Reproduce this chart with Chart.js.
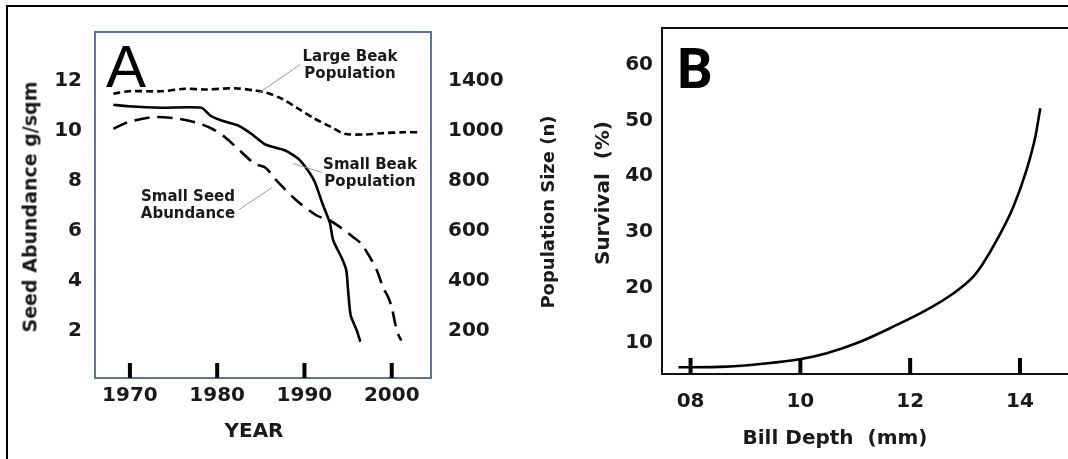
<!DOCTYPE html>
<html>
<head>
<meta charset="utf-8">
<title>Beak size and seed abundance</title>
<script src="https://cdn.jsdelivr.net/npm/chart.js@4.4.1/dist/chart.umd.min.js"></script>
<style>
  html, body { margin: 0; padding: 0; background: #fff; }
  #page { position: relative; width: 1068px; height: 459px; overflow: hidden; }
  .frame { position: absolute; left: 6px; top: 5px; width: 1100px; height: 500px;
           border-top: 2px solid #000; border-left: 2px solid #000; }
  canvas { position: absolute; top: 0; }
  #chartA { left: 0; }
  #chartB { left: 566px; }
  .title { position: absolute; font-family: "DejaVu Sans"; font-weight: bold; color: #1a1a1a;
           white-space: pre; line-height: 1; transform: translate(-50%, -50%); }
  .rot { transform: translate(-50%, -50%) rotate(-90deg); }
  .note { position: absolute; width: 140px; text-align: center; color: #1a1a1a;
          font: bold 15px/17px "DejaVu Sans"; }
  .panel { position: absolute; line-height: 1; color: #000; }
</style>
</head>
<body>
<div id="page">
  <div class="frame"></div>
  <canvas id="chartA" width="566" height="459"></canvas>
  <canvas id="chartB" width="530" height="459"></canvas>

  <div class="panel" style="left:106px; top:32px; font: 60px 'Liberation Sans';">A</div>
  <div class="panel" style="left:677px; top:36px; font: bold 56px Roboto;">B</div>

  <div class="note" style="left:280px; top:48px;">Large Beak<br>Population</div>
  <div class="note" style="left:300px; top:156px;">Small Beak<br>Population</div>
  <div class="note" style="left:118px; top:188px;">Small Seed<br>Abundance</div>

  <div class="title rot" style="left:30px; top:207px; font-size:19px;">Seed Abundance g/sqm</div>
  <div class="title rot" style="left:548px; top:212px; font-size:18px;">Population Size (n)</div>
  <div class="title" style="left:254px; top:430px; font-size:20px;">YEAR</div>
  <div class="title rot" style="left:602px; top:193px; font-size:20px;">Survival  (%)</div>
  <div class="title" style="left:835px; top:437px; font-size:20px;">Bill Depth  (mm)</div>
</div>

<script>
// === DADOS: painel A (anos x abundancia, unidades do eixo esquerdo) ===
const yearTicks = [1970, 1980, 1990, 2000];
const seedTicks = [2, 4, 6, 8, 10, 12];
const popTickLabels = ["200", "400", "600", "800", "1000", "1400"];

const largeBeakYears = [1968.1, 1969.8, 1973.6, 1976.3, 1978.6, 1982.0, 1984.3, 1985.5, 1987.4, 1989.3, 1991.2, 1993.1, 1994.6, 1996.9, 1998.8, 2001.5, 2003.3];
const largeBeak = [11.47, 11.57, 11.57, 11.67, 11.64, 11.69, 11.6, 11.53, 11.27, 10.87, 10.47, 10.13, 9.87, 9.84, 9.89, 9.93, 9.93];

const smallBeakYears = [1968.1, 1969.8, 1973.6, 1978.2, 1979.2, 1980.5, 1982.4, 1983.9, 1985.5, 1987.8, 1989.3, 1990.4, 1991.2, 1992.1, 1992.9, 1993.3, 1994.3, 1994.8, 1995.0, 1995.3, 1996.0, 1996.4];
const smallBeak = [11.03, 10.97, 10.91, 10.91, 10.6, 10.4, 10.2, 9.87, 9.44, 9.2, 8.87, 8.4, 7.93, 7.04, 6.32, 5.6, 4.88, 4.4, 3.6, 2.6, 2.0, 1.55];

const smallSeedYears = [1968.1, 1969.8, 1972.5, 1975.2, 1977.5, 1979.4, 1980.9, 1982.8, 1984.3, 1985.5, 1986.8, 1989.1, 1991.4, 1992.9, 1994.1, 1995.6, 1996.5, 1997.5, 1998.3, 1999.0, 1999.6, 2000.0, 2000.4, 2000.7, 2001.1];
const smallSeed = [10.07, 10.33, 10.53, 10.49, 10.33, 10.07, 9.73, 9.13, 8.67, 8.52, 8.0, 7.2, 6.6, 6.4, 6.13, 5.73, 5.47, 4.93, 4.4, 3.73, 3.33, 2.93, 2.27, 1.87, 1.6];

// linhas-guia das anotacoes: [ano, valor] na curva -> [ano, valor] perto do texto
const leaderLines = [
    [[1984.7, 11.48], [1989.5, 12.64]],
    [[1988.7, 8.68], [1992.0, 8.32]],
    [[1986.3, 7.72], [1982.5, 6.84]]
];

// === DADOS: painel B ===
const billTicks = [8, 10, 12, 14];
const billTickLabels = ["08", "10", "12", "14"];
const survivalTicks = [10, 20, 30, 40, 50, 60];
const billDepth = [7.78, 8.0, 8.66, 9.27, 9.99, 10.48, 11.09, 11.69, 12.3, 12.79, 13.15, 13.33, 13.58, 13.88, 14.12, 14.28, 14.37];
const survival = [5.63, 5.63, 5.74, 6.22, 7.07, 8.15, 10.23, 12.93, 15.94, 18.94, 21.92, 24.33, 28.53, 34.51, 41.12, 47.1, 52.2];

// === AJUDA ===
const INK = "#1a1a1a";
const tickFont = { family: "DejaVu Sans", size: 20, weight: "bold" };

function pts(xs, ys) {
    return xs.map((x, i) => ({ x: x, y: ys[i] }));
}

function fixedTicks(values) {
    return axis => { axis.ticks = values.map(v => ({ value: v })); };
}

// moldura da area do grafico
const framePlugin = {
    id: "frame",
    afterDatasetsDraw(chart, args, opts) {
        const { ctx, chartArea: a } = chart;
        ctx.save();
        ctx.strokeStyle = opts.color;
        ctx.lineWidth = opts.width;
        ctx.strokeRect(a.left, a.top, a.right - a.left, a.bottom - a.top);
        ctx.restore();
    }
};

// tracinhos grossos por dentro, no eixo x
const innerTicksPlugin = {
    id: "innerTicks",
    afterDatasetsDraw(chart, args, opts) {
        const { ctx, chartArea: a } = chart;
        const xs = chart.scales.x;
        ctx.save();
        ctx.strokeStyle = "#000";
        ctx.lineWidth = opts.width;
        xs.ticks.forEach(t => {
            const px = xs.getPixelForValue(t.value);
            ctx.beginPath();
            ctx.moveTo(px, a.bottom);
            ctx.lineTo(px, a.bottom - opts.length);
            ctx.stroke();
        });
        ctx.restore();
    }
};

const leaderPlugin = {
    id: "leaders",
    afterDatasetsDraw(chart, args, opts) {
        if (!opts.lines) return;
        const { ctx } = chart;
        const xs = chart.scales.x, ys = chart.scales.y;
        ctx.save();
        ctx.strokeStyle = "#9a9a9a";
        ctx.lineWidth = 1;
        opts.lines.forEach(([p, q]) => {
            ctx.beginPath();
            ctx.moveTo(xs.getPixelForValue(p[0]), ys.getPixelForValue(p[1]));
            ctx.lineTo(xs.getPixelForValue(q[0]), ys.getPixelForValue(q[1]));
            ctx.stroke();
        });
        ctx.restore();
    }
};

function lineSet(label, data, dash, tension) {
    return {
        label: label, data: data, borderColor: "#000", borderWidth: 2.6,
        borderDash: dash, pointRadius: 0, tension: tension, fill: false
    };
}

// === PAINEL A ===
new Chart(document.getElementById("chartA"), {
    type: "line",
    data: {
        datasets: [
            lineSet("Large Beak Population", pts(largeBeakYears, largeBeak), [7, 4], 0.3),
            lineSet("Small Beak Population", pts(smallBeakYears, smallBeak), [], 0.2),
            lineSet("Small Seed Abundance", pts(smallSeedYears, smallSeed), [15, 8], 0.3)
        ]
    },
    options: {
        responsive: false,
        animation: false,
        layout: { padding: { top: 32, left: 0, right: 0, bottom: 0 } },
        plugins: {
            legend: { display: false },
            tooltip: { enabled: false },
            frame: { color: "#5874a0", width: 2 },
            innerTicks: { width: 4, length: 15 },
            leaders: { lines: leaderLines }
        },
        scales: {
            x: {
                type: "linear", min: 1966, max: 2004.5,
                grid: { display: false, drawTicks: false }, border: { display: false },
                afterBuildTicks: fixedTicks(yearTicks),
                afterFit: s => { s.height = 81; },
                ticks: { padding: 6, font: tickFont, color: INK, maxRotation: 0, callback: v => String(v) }
            },
            y: {
                min: 0.1, max: 13.94, position: "left",
                grid: { display: false, drawTicks: false }, border: { display: false },
                afterBuildTicks: fixedTicks(seedTicks),
                afterFit: s => { s.width = 95; },
                ticks: { padding: 13, font: tickFont, color: INK, callback: v => String(v) }
            },
            y2: {
                min: 0.1, max: 13.94, position: "right",
                grid: { display: false, drawTicks: false }, border: { display: false },
                afterBuildTicks: fixedTicks(seedTicks),
                afterFit: s => { s.width = 135; },
                ticks: { padding: 17, font: tickFont, color: INK, callback: (v, i) => popTickLabels[i] }
            }
        }
    },
    plugins: [framePlugin, innerTicksPlugin, leaderPlugin]
});

// === PAINEL B ===
new Chart(document.getElementById("chartB"), {
    type: "line",
    data: {
        datasets: [{
            label: "Survival", data: pts(billDepth, survival), borderColor: "#000",
            borderWidth: 2.6, pointRadius: 0, cubicInterpolationMode: "monotone", fill: false
        }]
    },
    options: {
        responsive: false,
        animation: false,
        layout: { padding: { top: 28, left: 0, right: 0, bottom: 0 } },
        plugins: {
            legend: { display: false },
            tooltip: { enabled: false },
            frame: { color: "#111", width: 2 },
            innerTicks: { width: 4, length: 16 }
        },
        scales: {
            x: {
                type: "linear", min: 7.48, max: 15.385,
                grid: { display: false, drawTicks: false }, border: { display: false },
                afterBuildTicks: fixedTicks(billTicks),
                afterFit: s => { s.height = 85; },
                ticks: { padding: 16, font: tickFont, color: INK, maxRotation: 0, callback: (v, i) => billTickLabels[i] }
            },
            y: {
                min: 4.42, max: 66.65, position: "left",
                grid: { display: false, drawTicks: false }, border: { display: false },
                afterBuildTicks: fixedTicks(survivalTicks),
                afterFit: s => { s.width = 96; },
                ticks: { padding: 9, font: tickFont, color: INK, callback: v => String(v) }
            }
        }
    },
    plugins: [framePlugin, innerTicksPlugin]
});
</script>
</body>
</html>
